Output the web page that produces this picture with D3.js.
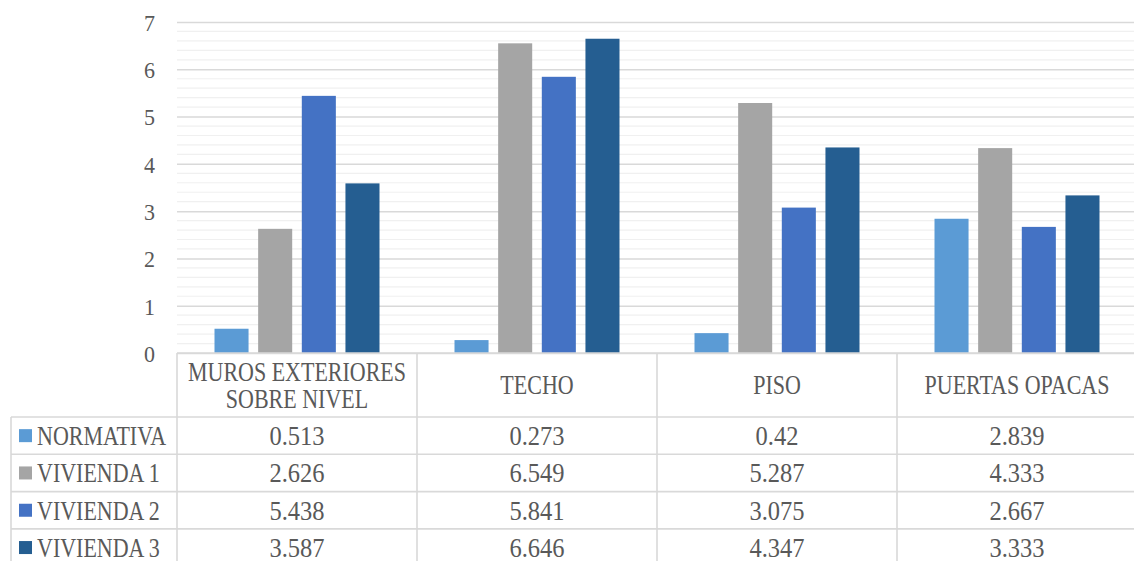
<!DOCTYPE html>
<html>
<head>
<meta charset="utf-8">
<script src="https://cdn.jsdelivr.net/npm/d3@7"></script>
<style>
  html, body { margin: 0; padding: 0; background: #fff; }
  svg { display: block; }
  text { font-family: "Liberation Serif", "DejaVu Serif", serif; fill: #595959; }
</style>
</head>
<body>
<svg id="chart" width="1134" height="561"></svg>
<script>
// Categories (table columns) and their header lines
const categories = ["MUROS EXTERIORES SOBRE NIVEL", "TECHO", "PISO", "PUERTAS OPACAS"];
const categoryLines = [["MUROS EXTERIORES", "SOBRE NIVEL"], ["TECHO"], ["PISO"], ["PUERTAS OPACAS"]];

// Series names, colours and values per category
const seriesNames = ["NORMATIVA", "VIVIENDA 1", "VIVIENDA 2", "VIVIENDA 3"];
const seriesColors = ["#5B9BD5", "#A5A5A5", "#4472C4", "#255E91"];
const normativa = [0.513, 0.273, 0.42, 2.839];
const vivienda1 = [2.626, 6.549, 5.287, 4.333];
const vivienda2 = [5.438, 5.841, 3.075, 2.667];
const vivienda3 = [3.587, 6.646, 4.347, 3.333];
const seriesValues = [normativa, vivienda1, vivienda2, vivienda3];

// Axis ticks
const yTicks = [0, 1, 2, 3, 4, 5, 6, 7];
const yMinorStep = 0.2;

const svg = d3.select("#chart");

const plotLeft = 177, plotRight = 1137, plotTop = 22, plotBottom = 353;
const headerBottom = 417, rowH = 37.3, tableLeft = 11;
const gridColor = "#d9d9d9", minorColor = "#f0f0f0";

const x = d3.scaleBand().domain(categories).range([plotLeft, plotRight]);
const xInner = d3.scaleBand().domain(seriesNames)
  .range([37.5, x.bandwidth() - 37.5]).paddingInner(0.22);
const y = d3.scaleLinear().domain([0, 7]).range([plotBottom, plotTop]);

// Text placed at (tx, ty), vertically centred, with a slightly tall face
function label(g, tx, ty, str, size, stretch, anchor) {
  return g.append("text")
    .attr("transform", `translate(${tx},${ty}) scale(1,${stretch})`)
    .attr("dy", "0.35em")
    .attr("text-anchor", anchor)
    .attr("font-size", size)
    .text(str);
}

// Minor gridlines
const minorTicks = d3.range(0, 7 + 1e-9, yMinorStep).filter(v => Math.abs(v - Math.round(v)) > 1e-6);
svg.append("g").selectAll("line").data(minorTicks).join("line")
  .attr("x1", plotLeft).attr("x2", 1134)
  .attr("y1", d => y(d)).attr("y2", d => y(d))
  .attr("stroke", minorColor).attr("stroke-width", 1.2);

// Major gridlines and y axis labels
const yAxis = d3.axisLeft(y).tickValues(yTicks).tickSize(-(1134 - plotLeft)).tickPadding(22)
  .tickFormat(d3.format("d"));
const gy = svg.append("g").attr("transform", `translate(${plotLeft},0)`).call(yAxis);
gy.select(".domain").remove();
gy.selectAll(".tick line").attr("stroke", gridColor).attr("stroke-width", 1.5);
gy.selectAll(".tick text").attr("font-size", 22).attr("fill", "#595959")
  .attr("font-family", "Liberation Serif, serif")
  .attr("x", null).attr("dy", null)
  .attr("transform", "translate(-22,0) scale(1,1.08)")
  .attr("dy", "0.35em");

// Bars
const groups = svg.append("g").selectAll("g").data(seriesNames).join("g")
  .attr("fill", (d, i) => seriesColors[i]);
groups.selectAll("rect")
  .data((s, si) => categories.map((c, ci) => ({ c, s, v: seriesValues[si][ci] })))
  .join("rect")
  .attr("x", d => x(d.c) + xInner(d.s))
  .attr("width", xInner.bandwidth())
  .attr("y", d => y(d.v))
  .attr("height", d => y(0) - y(d.v));

// Data table
const table = svg.append("g").attr("stroke", gridColor).attr("stroke-width", 1.6);
const tableBottom = headerBottom + rowH * 4;
// horizontal lines
table.append("line").attr("x1", plotLeft).attr("x2", 1134).attr("y1", plotBottom).attr("y2", plotBottom);
d3.range(0, 4).forEach(i => {
  const yy = headerBottom + i * rowH;
  table.append("line").attr("x1", tableLeft).attr("x2", 1134).attr("y1", yy).attr("y2", yy);
});
// vertical lines
table.append("line").attr("x1", tableLeft).attr("x2", tableLeft).attr("y1", headerBottom).attr("y2", tableBottom);
categories.forEach(c => {
  table.append("line").attr("x1", x(c)).attr("x2", x(c)).attr("y1", plotBottom).attr("y2", tableBottom);
});

// Header text
const headers = svg.append("g");
categories.forEach((c, ci) => {
  const lines = categoryLines[ci];
  const cx = x(c) + x.bandwidth() / 2;
  const cy = (plotBottom + headerBottom) / 2;
  const lh = 27;
  lines.forEach((ln, li) => {
    label(headers, cx, cy + (li - (lines.length - 1) / 2) * lh, ln, 22, 1.2, "middle");
  });
});

// Rows: legend key, series name, values
const rows = svg.append("g");
seriesNames.forEach((s, si) => {
  const cy = headerBottom + si * rowH + rowH / 2;
  rows.append("rect").attr("x", 19).attr("y", cy - 6.5).attr("width", 13).attr("height", 13)
    .attr("fill", seriesColors[si]);
  label(rows, 37, cy, s, 22, 1.2, "start");
  categories.forEach((c, ci) => {
    label(rows, x(c) + x.bandwidth() / 2, cy, String(seriesValues[si][ci]), 24.5, 1.08, "middle");
  });
});
</script>
</body>
</html>
